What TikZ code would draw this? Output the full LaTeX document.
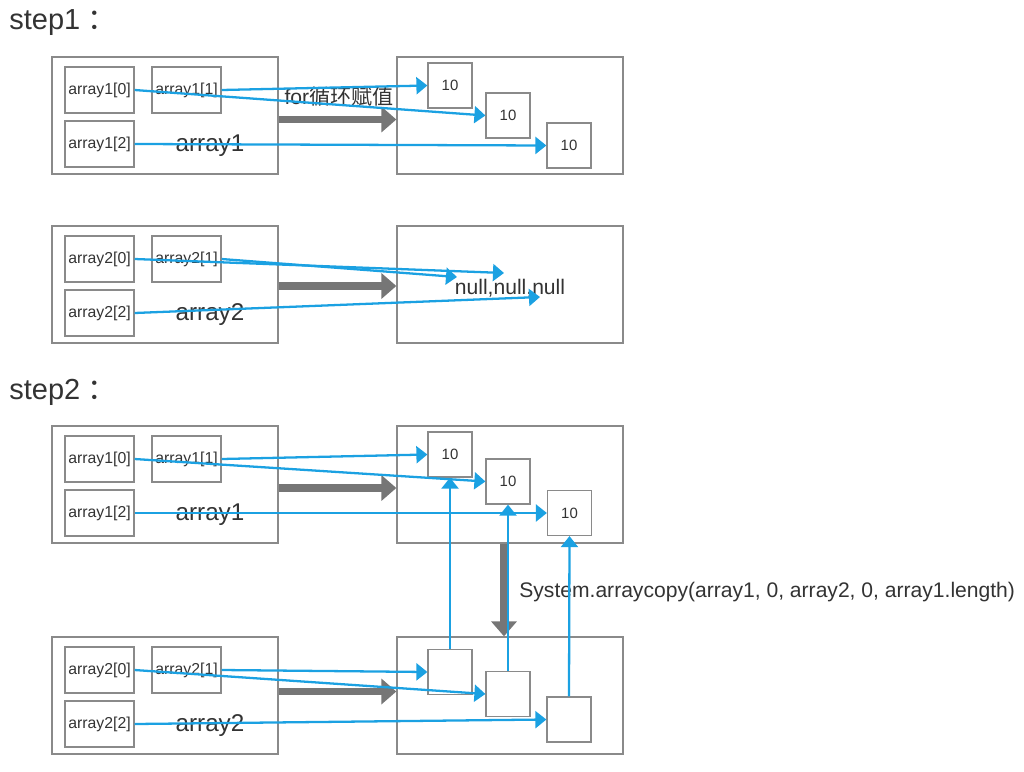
\documentclass[tikz,border=0pt]{standalone}
\usepackage{fontspec}
\setmainfont{Liberation Sans}
\newfontfamily\cjk{Noto Sans CJK SC}
\usepackage{tikz}
\usetikzlibrary{arrows.meta}
\definecolor{linkblue}{HTML}{1BA1E2}
\definecolor{boxgray}{HTML}{8A8A8A}
\definecolor{pushgray}{HTML}{767676}
\definecolor{txt}{HTML}{333333}

\tikzset{
  outer/.style={draw=boxgray, line width=0.75pt, minimum width=4.52cm, minimum height=2.34cm, inner sep=0pt},
  cell/.style={draw=boxgray, line width=0.7pt, minimum width=1.38cm, minimum height=0.92cm, inner sep=0pt,
    text=txt, font=\fontsize{9}{10}\selectfont},
  val/.style={draw=boxgray, line width=0.7pt, minimum width=0.88cm, minimum height=0.9cm, inner sep=0pt,
    text=txt, font=\fontsize{8.5}{10}\selectfont},
  link/.style={draw=linkblue, line width=1.3pt, -{Triangle[length=0.22cm,width=0.34cm]}},
  push/.style={draw=pushgray, line width=4pt, -{Triangle[length=0.3cm,width=0.5cm]}},
  big/.style={text=txt, inner sep=0pt, font=\fontsize{13.8}{15}\selectfont},
  note/.style={text=txt, inner sep=0pt, font=\fontsize{12}{14}\selectfont},
  steplabel/.style={text=txt, inner sep=0pt, anchor=base west, font=\fontsize{16.5}{18}\selectfont}
}

\begin{document}
\begin{tikzpicture}[x={(0.02cm,0)}, y={(0,-0.02cm)}]
  \useasboundingbox (0,0) rectangle (1024,771);

  %% step1
  \node[steplabel] (s1) at (9,29) {step1\hspace{0.15cm}\cjk ：};

  \node[outer] (ob1) at (165,115.5) {};
  \node[cell] (a10) at (99.5,90) {array1[0]};
  \node[cell] (a11) at (186.5,90) {array1[1]};
  \node[cell] (a12) at (99.5,144) {array1[2]};
  \node[big] (n1) at (210,146) {array1};

  \node[outer] (rb1) at (510,115.5) {};
  \node[val] (v1) at (450,85.5) {10};
  \node[val] (v2) at (508,115.5) {10};
  \node[val] (v3) at (569,145.5) {10};

  \node[note] (loop) at (339,97) {for\cjk 循环赋值};
  \draw[push] ([yshift=-0.08cm]ob1.east) -- ([yshift=-0.08cm]rb1.west);

  \draw[link] (a10.east) -- (v2.west);
  \draw[link] (a11.east) -- (v1.west);
  \draw[link] (a12.east) -- (v3.west);

  \node[outer] (ob2) at (165,284.5) {};
  \node[cell] (b20) at (99.5,259) {array2[0]};
  \node[cell] (b21) at (186.5,259) {array2[1]};
  \node[cell] (b22) at (99.5,313) {array2[2]};
  \node[big] (n2) at (210,315) {array2};

  \node[outer] (rb2) at (510,284.5) {};
  \node[note] (nul) at (510,288) {null,null,null};
  \coordinate (p1) at (457,277);
  \coordinate (p2) at (504,273);
  \coordinate (p3) at (540,297);

  \draw[push] ([yshift=-0.03cm]ob2.east) -- ([yshift=-0.03cm]rb2.west);

  \draw[link] (b20.east) -- (p2);
  \draw[link] (b21.east) -- (p1);
  \draw[link] (b22.east) -- (p3);

  %% step2
  \node[steplabel] (s2) at (9,399) {step2\hspace{0.15cm}\cjk ：};

  \node[outer] (ob3) at (165,484.5) {};
  \node[cell] (c10) at (99.5,459) {array1[0]};
  \node[cell] (c11) at (186.5,459) {array1[1]};
  \node[cell] (c12) at (99.5,513) {array1[2]};
  \node[big] (n3) at (210,515) {array1};

  \node[outer] (rb3) at (510,484.5) {};
  \node[val] (u1) at (450,454.5) {10};
  \node[val] (u2) at (508,481.5) {10};
  \node[val] (u3) at (569.5,513) {10};

  \draw[push] ([yshift=-0.07cm]ob3.east) -- ([yshift=-0.07cm]rb3.west);

  \draw[link] (c10.east) -- (u2.west);
  \draw[link] (c11.east) -- (u1.west);
  \draw[link] (c12.east) -- (u3.west);

  \node[outer] (ob4) at (165,695.5) {};
  \node[cell] (d20) at (99.5,670) {array2[0]};
  \node[cell] (d21) at (186.5,670) {array2[1]};
  \node[cell] (d22) at (99.5,724) {array2[2]};
  \node[big] (n4) at (210,726) {array2};

  \node[outer] (rb4) at (510,695.5) {};
  \node[val] (w1) at (450,672) {};
  \node[val] (w2) at (508,694) {};
  \node[val] (w3) at (569,719.5) {};

  \draw[push] ([yshift=0.08cm]ob4.east) -- ([yshift=0.08cm]rb4.west);

  \draw[link] (d20.east) -- (w2.west);
  \draw[link] (d21.east) -- (w1.west);
  \draw[link] (d22.east) -- (w3.west);

  \draw[push] ([xshift=-0.12cm]rb3.south) -- ([xshift=-0.12cm]rb4.north);
  \node[note, anchor=west] (copy) at (519,592) {System.arraycopy(array1, 0, array2, 0, array1.length)};

  \draw[link] (w1.north) -- (u1.south);
  \draw[link] (w2.north) -- (u2.south);
  \draw[link] (w3.north) -- (u3.south);
\end{tikzpicture}
\end{document}
